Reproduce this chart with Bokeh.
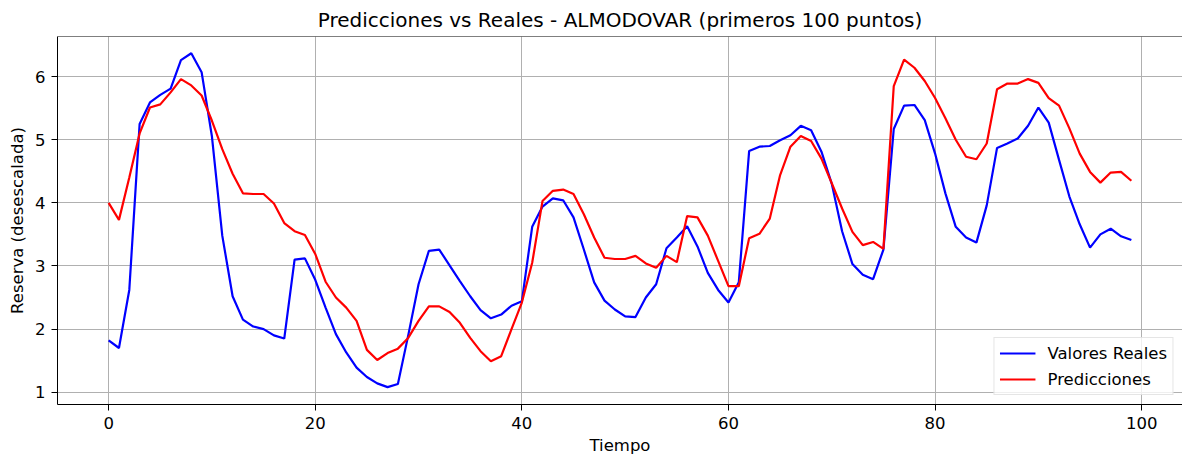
from bokeh.plotting import figure
from bokeh.models import Range1d, FixedTicker, Legend, LegendItem, Span
from bokeh.embed import file_html
from bokeh.resources import INLINE

tiempo = list(range(100))

valores_reales = [
    1.82, 1.70, 2.62, 5.25, 5.59, 5.71, 5.81, 6.26, 6.37, 6.07,
    5.05, 3.48, 2.52, 2.15, 2.04, 2.00, 1.90, 1.85, 3.10, 3.12,
    2.78, 2.34, 1.92, 1.63, 1.39, 1.24, 1.14, 1.08, 1.13, 1.90,
    2.71, 3.24, 3.26, 3.01, 2.76, 2.52, 2.30, 2.17, 2.23, 2.37,
    2.44, 3.62, 3.94, 4.07, 4.04, 3.77, 3.26, 2.74, 2.45, 2.31,
    2.20, 2.19, 2.50, 2.71, 3.28, 3.45, 3.63, 3.31, 2.89, 2.62,
    2.42, 2.74, 4.82, 4.89, 4.90, 4.99, 5.07, 5.22, 5.15, 4.81,
    4.30, 3.55, 3.03, 2.86, 2.79, 3.26, 5.17, 5.54, 5.55, 5.31,
    4.78, 4.15, 3.62, 3.45, 3.37, 3.96, 4.87, 4.94, 5.02, 5.22,
    5.51, 5.27, 4.68, 4.10, 3.66, 3.29, 3.50, 3.59, 3.47, 3.41,
]

predicciones = [
    4.00, 3.73, 4.40, 5.10, 5.51, 5.56, 5.75, 5.96, 5.86, 5.70,
    5.30, 4.85, 4.46, 4.15, 4.14, 4.14, 3.99, 3.68, 3.55, 3.49,
    3.19, 2.75, 2.50, 2.34, 2.13, 1.67, 1.51, 1.62, 1.69, 1.86,
    2.13, 2.36, 2.36, 2.27, 2.10, 1.86, 1.65, 1.49, 1.57, 2.00,
    2.42, 3.05, 4.03, 4.19, 4.21, 4.14, 3.82, 3.45, 3.13, 3.11,
    3.11, 3.16, 3.04, 2.97, 3.16, 3.06, 3.79, 3.77, 3.48, 3.08,
    2.68, 2.68, 3.44, 3.51, 3.75, 4.44, 4.89, 5.06, 4.98, 4.70,
    4.31, 3.91, 3.54, 3.33, 3.38, 3.27, 5.85, 6.27, 6.14, 5.93,
    5.66, 5.34, 5.00, 4.73, 4.69, 4.94, 5.80, 5.89, 5.89, 5.96,
    5.90, 5.66, 5.54, 5.18, 4.78, 4.49, 4.32, 4.48, 4.49, 4.35,
]

x_ticks = [0, 20, 40, 60, 80, 100]
y_ticks = [1, 2, 3, 4, 5, 6]

FONT = "DejaVu Sans"
Y_MIN, Y_MAX = 0.805, 6.635

p = figure(
    width=1182, height=459,
    output_backend="svg", toolbar_location=None,
    x_range=Range1d(-4.95, 103.95), y_range=Range1d(Y_MIN, Y_MAX),
    min_border_left=57, min_border_right=0, min_border_top=35, min_border_bottom=55,
)

p.title.text = "Predicciones vs Reales - ALMODOVAR (primeros 100 puntos)"
p.title.align = "center"
p.title.text_font = FONT
p.title.text_font_size = "20px"
p.title.text_font_style = "normal"
p.title.text_color = "#000000"
p.title.standoff = 10

p.outline_line_color = None
p.background_fill_color = "white"
p.border_fill_color = "white"

for ax in (p.xaxis[0], p.yaxis[0]):
    ax.axis_line_color = "#000000"
    ax.axis_line_width = 1
    ax.major_tick_line_color = "#000000"
    ax.major_tick_out = 6
    ax.major_tick_in = 0
    ax.minor_tick_line_color = None
    ax.major_label_text_font = FONT
    ax.major_label_text_font_size = "16.5px"
    ax.major_label_text_color = "#000000"
    ax.axis_label_text_font = FONT
    ax.axis_label_text_font_size = "16.5px"
    ax.axis_label_text_font_style = "normal"
    ax.axis_label_text_color = "#000000"

p.xaxis.ticker = FixedTicker(ticks=x_ticks)
p.yaxis.ticker = FixedTicker(ticks=y_ticks)
p.xaxis.axis_label = "Tiempo"
p.yaxis.axis_label = "Reserva (desescalada)"
p.xaxis.major_label_standoff = 6
p.yaxis.major_label_standoff = 6
p.xaxis.axis_label_standoff = 4
p.yaxis.axis_label_standoff = 5

p.xgrid.ticker = FixedTicker(ticks=x_ticks)
p.ygrid.ticker = FixedTicker(ticks=y_ticks)
p.grid.grid_line_color = "#b0b0b0"
p.grid.grid_line_width = 1

# top border of the axes box (right side is cut off in the reference)
p.add_layout(Span(location=Y_MAX, dimension="width", line_color="#000000", line_width=1))

r1 = p.line(tiempo, valores_reales, line_color="#0000ff", line_width=2.2)
r2 = p.line(tiempo, predicciones, line_color="#ff0000", line_width=2.2)

legend = Legend(
    items=[LegendItem(label="Valores Reales", renderers=[r1]),
           LegendItem(label="Predicciones", renderers=[r2])],
    location="bottom_right",
)
legend.margin = 9
legend.padding = 5
legend.spacing = 6
legend.glyph_width = 36
legend.glyph_height = 20
legend.label_standoff = 12
legend.label_text_font = FONT
legend.label_text_font_size = "16.5px"
legend.label_text_color = "#000000"
legend.border_line_color = "#cccccc"
legend.border_line_width = 1
legend.background_fill_alpha = 0.8
p.add_layout(legend, "center")

open("out.html", "w").write(file_html(p, INLINE))
